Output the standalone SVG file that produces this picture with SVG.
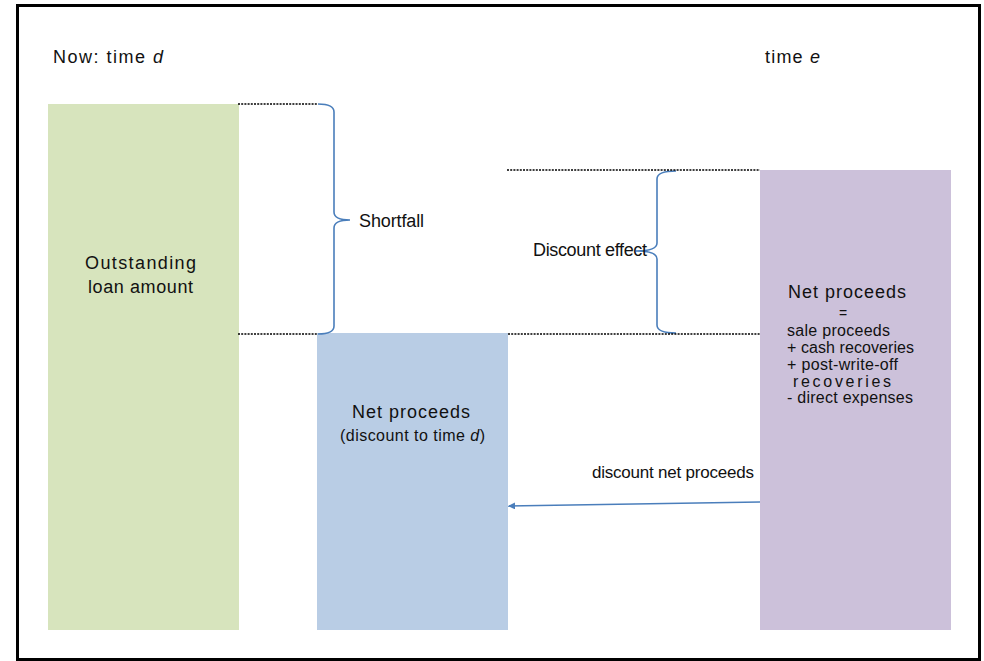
<svg xmlns="http://www.w3.org/2000/svg" width="984" height="661" viewBox="0 0 984 661">
<defs>
<style>
text{font-family:"Liberation Sans",Arial,sans-serif;fill:#111;}
.big{font-size:18px;}
.mid{font-size:17px;}
.sm{font-size:16px;}
.eq{font-size:14px;}
.dash{stroke:#000;stroke-width:1.6;stroke-dasharray:2 1.2;fill:none;}
.brace{stroke:#4a7ebb;stroke-width:1.6;fill:none;}
.it{font-style:italic;}
</style>
<marker id="ah" viewBox="0 0 10 10" refX="10" refY="5" markerWidth="7" markerHeight="7" markerUnits="userSpaceOnUse" orient="auto">
<path d="M0,0 L10,5 L0,10 z" fill="#4a7ebb"/>
</marker>
</defs>
<rect x="0" y="0" width="984" height="661" fill="#fff"/>
<rect x="17.5" y="5.5" width="962" height="654" fill="#fff" stroke="#000" stroke-width="3"/>

<g id="header-d"><text class="big" x="53" y="63" textLength="110">Now: time <tspan class="it">d</tspan></text></g>
<g id="header-e"><text class="big" x="765" y="63" textLength="55">time <tspan class="it">e</tspan></text></g>

<g id="outstanding">
<rect x="48" y="104" width="191" height="526" fill="#d7e4bd"/>
<text class="big" x="85" y="269" textLength="111">Outstanding</text>
<text class="big" x="88" y="293" textLength="105">loan amount</text>
</g>

<g id="net-proceeds-d">
<rect x="317" y="333" width="191" height="297" fill="#b9cde5"/>
<text class="big" x="352" y="418" textLength="118">Net proceeds</text>
<text class="sm" x="340" y="441" textLength="145">(discount to time <tspan class="it">d</tspan>)</text>
</g>

<g id="net-proceeds-e">
<rect x="760" y="170" width="191" height="460" fill="#ccc1da"/>
<text class="big" x="788" y="298" textLength="118">Net proceeds</text>
<text class="eq" x="839" y="318">=</text>
<text class="sm" x="787" y="336" textLength="103">sale proceeds</text>
<text class="sm" x="787" y="353" textLength="127">+ cash recoveries</text>
<text class="sm" x="787" y="370" textLength="111">+ post-write-off</text>
<text class="sm" x="793" y="387" textLength="98">recoveries</text>
<text class="sm" x="787" y="403" textLength="126">- direct expenses</text>
</g>

<g id="shortfall">
<path class="brace" d="M318,104 Q334,104 334,112 L334,212 Q334,220 350,220 Q334,220 334,228 L334,326 Q334,334 318,334"/>
<text class="big" x="359" y="227" textLength="65">Shortfall</text>
</g>

<g id="discount-effect">
<path class="brace" d="M676,171 Q657,171 657,179 L657,243 Q657,251 636,251 Q657,251 657,259 L657,325 Q657,333 676,333"/>
<text class="big" x="533" y="256" textLength="114">Discount effect</text>
</g>

<g id="connectors">
<line class="dash" x1="238" y1="104" x2="317" y2="104"/>
<line class="dash" x1="238" y1="334" x2="317" y2="334"/>
<line class="dash" x1="507" y1="170" x2="760" y2="170"/>
<line class="dash" x1="508" y1="334" x2="760" y2="334"/>
<line x1="760" y1="502" x2="508" y2="506" stroke="#4a7ebb" stroke-width="1.6" marker-end="url(#ah)"/>
<text class="mid" x="592" y="478" textLength="162">discount net proceeds</text>
</g>
</svg>
